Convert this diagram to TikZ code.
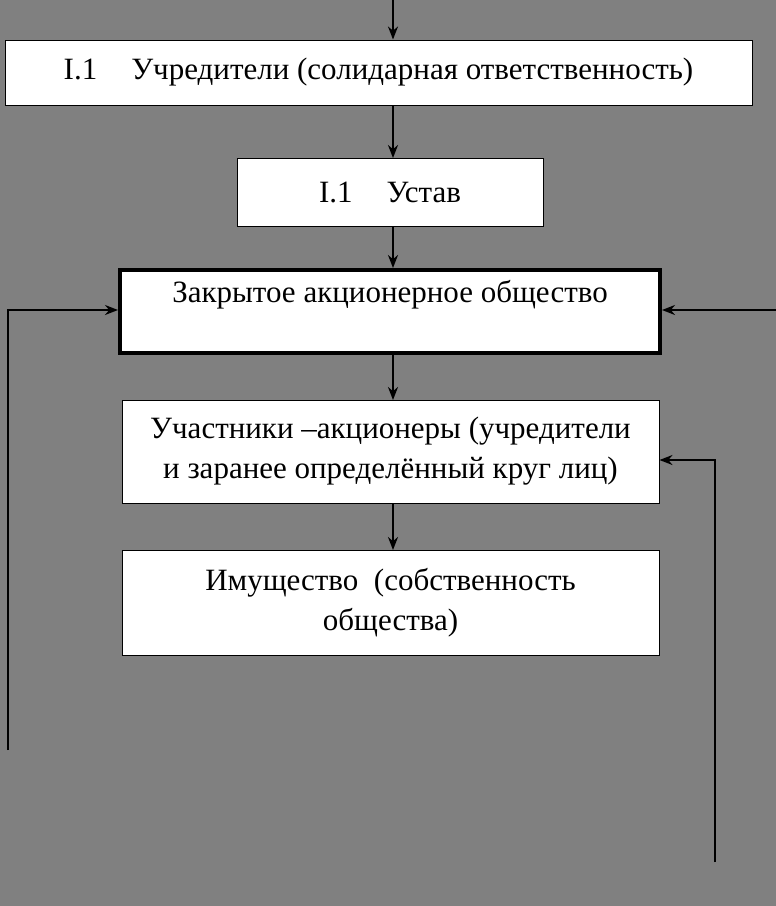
\documentclass[tikz,border=0pt]{standalone}
\usepackage{fontspec}
\setmainfont{Liberation Serif}
\usetikzlibrary{arrows.meta}
\definecolor{bg}{HTML}{808080}
\tikzset{
 box/.style={draw=black,fill=white,line width=1pt,inner sep=0pt,align=center,font=\fontsize{31}{40}\selectfont},
 arr/.style={draw=black,line width=1.8pt,-{Stealth[length=13pt,width=10pt]}}
}
\begin{document}
\begin{tikzpicture}[x=1pt,y=-1pt]
\fill[bg] (0,0) rectangle (776,906);
\useasboundingbox (0,0) rectangle (776,906);
\node[box,minimum width=747pt,minimum height=65pt] (b1) at (378.5,72.5) {I.1\hspace{34pt}Учредители (солидарная ответственность)};
\node[box,minimum width=306pt,minimum height=68pt] (b2) at (390,192) {I.1\hspace{34pt}Устав};
\node[box,line width=4pt,minimum width=540pt,minimum height=83pt] (b3) at (390,311.5) {Закрытое акционерное общество\\[0pt]};
\node[box,minimum width=537pt,minimum height=103pt] (b4) at (390.5,451.5) {Участники –акционеры (учредители\\и заранее определённый круг лиц)};
\node[box,minimum width=537pt,minimum height=105pt] (b5) at (390.5,602.5) {Имущество\ \ (собственность\\общества)};
\coordinate (top) at (393,0);
\coordinate (l1) at (8,750);
\coordinate (l2) at (8,310);
\coordinate (r1) at (776,310);
\coordinate (q1) at (715,862);
\coordinate (q2) at (715,460);
\draw[arr] (top) -- (top |- b1.north);
\draw[arr] (393,105) -- (393,158);
\draw[arr] (393,226) -- (393,268);
\draw[arr] (393,355) -- (393,400);
\draw[arr] (393,503) -- (393,550);
\draw[arr] (l1) -- (l2) -- (l2 -| b3.west);
\draw[arr] (r1) -- (r1 -| b3.east);
\draw[arr] (q1) -- (q2) -- (q2 -| b4.east);
\end{tikzpicture}
\end{document}
